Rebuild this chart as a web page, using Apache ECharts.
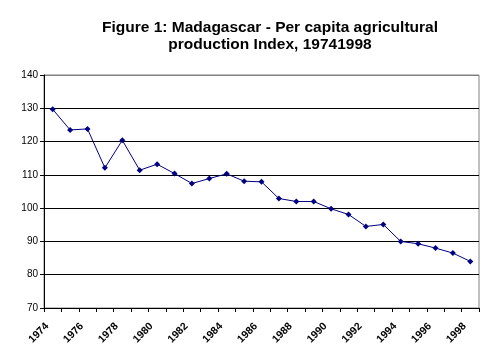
<!DOCTYPE html>
<html>
<head>
<meta charset="utf-8">
<script src="https://cdn.jsdelivr.net/npm/echarts@6/dist/echarts.min.js"></script>
<style>
  html, body { margin: 0; padding: 0; background: #fff; }
  #chart { width: 485px; height: 352px; }
</style>
</head>
<body>
<div id="chart"></div>
<script>
// 年份 1974-1998
var years = ['1974','1975','1976','1977','1978','1979','1980','1981','1982','1983','1984','1985','1986',
             '1987','1988','1989','1990','1991','1992','1993','1994','1995','1996','1997','1998'];
// 人均农业生产指数
var indexValues = [129.7, 123.5, 123.8, 112.1, 120.4, 111.4, 113.2, 110.4, 107.4, 108.9, 110.3, 108.1, 107.9,
                   102.9, 102.0, 102.0, 99.8, 98.1, 94.5, 95.1, 90.0, 89.3, 88.0, 86.5, 84.0];
var titleText = 'Figure 1: Madagascar - Per capita agricultural\nproduction Index, 19741998';

var chart = echarts.init(document.getElementById('chart'));
var option = {
    animation: false,
    backgroundColor: '#fff',
    title: {
        text: titleText,
        left: 265,
        top: 14,
        textAlign: 'center',
        textStyle: {
            fontFamily: 'Liberation Sans',
            fontWeight: 'bold',
            fontSize: 15.5,
            lineHeight: 17,
            color: '#000'
        }
    },
    grid: {
        left: 44,
        right: 6,
        top: 75,
        bottom: 44,
        show: true,
        borderColor: '#808080',
        borderWidth: 1
    },
    xAxis: {
        type: 'category',
        data: years,
        boundaryGap: true,
        axisLine: { lineStyle: { color: '#000', width: 1 } },
        axisTick: { show: true, length: 4, interval: 0, lineStyle: { color: '#000' } },
        axisLabel: {
            interval: 1,
            rotate: 45,
            margin: 11,
            padding: [0, 8, 0, 0],
            fontFamily: 'Liberation Sans',
            fontWeight: 'bold',
            fontSize: 10.5,
            color: '#000'
        },
        splitLine: { show: false }
    },
    yAxis: {
        type: 'value',
        min: 70,
        max: 140,
        interval: 10,
        axisLine: { show: true, lineStyle: { color: '#000', width: 1 } },
        axisTick: { show: true, length: 4, lineStyle: { color: '#000' } },
        axisLabel: {
            margin: 6,
            fontFamily: 'Liberation Sans',
            fontSize: 10,
            color: '#000'
        },
        splitLine: {
            show: true,
            lineStyle: {
                color: ['#000', '#000', '#000', '#000', '#000', '#000', '#000', '#808080'],
                width: 1
            }
        }
    },
    series: [{
        name: 'Index',
        type: 'line',
        data: indexValues,
        symbol: 'diamond',
        symbolSize: 6,
        itemStyle: { color: '#000080' },
        lineStyle: { color: '#000080', width: 1 }
    }]
};
chart.setOption(option);
</script>
</body>
</html>
